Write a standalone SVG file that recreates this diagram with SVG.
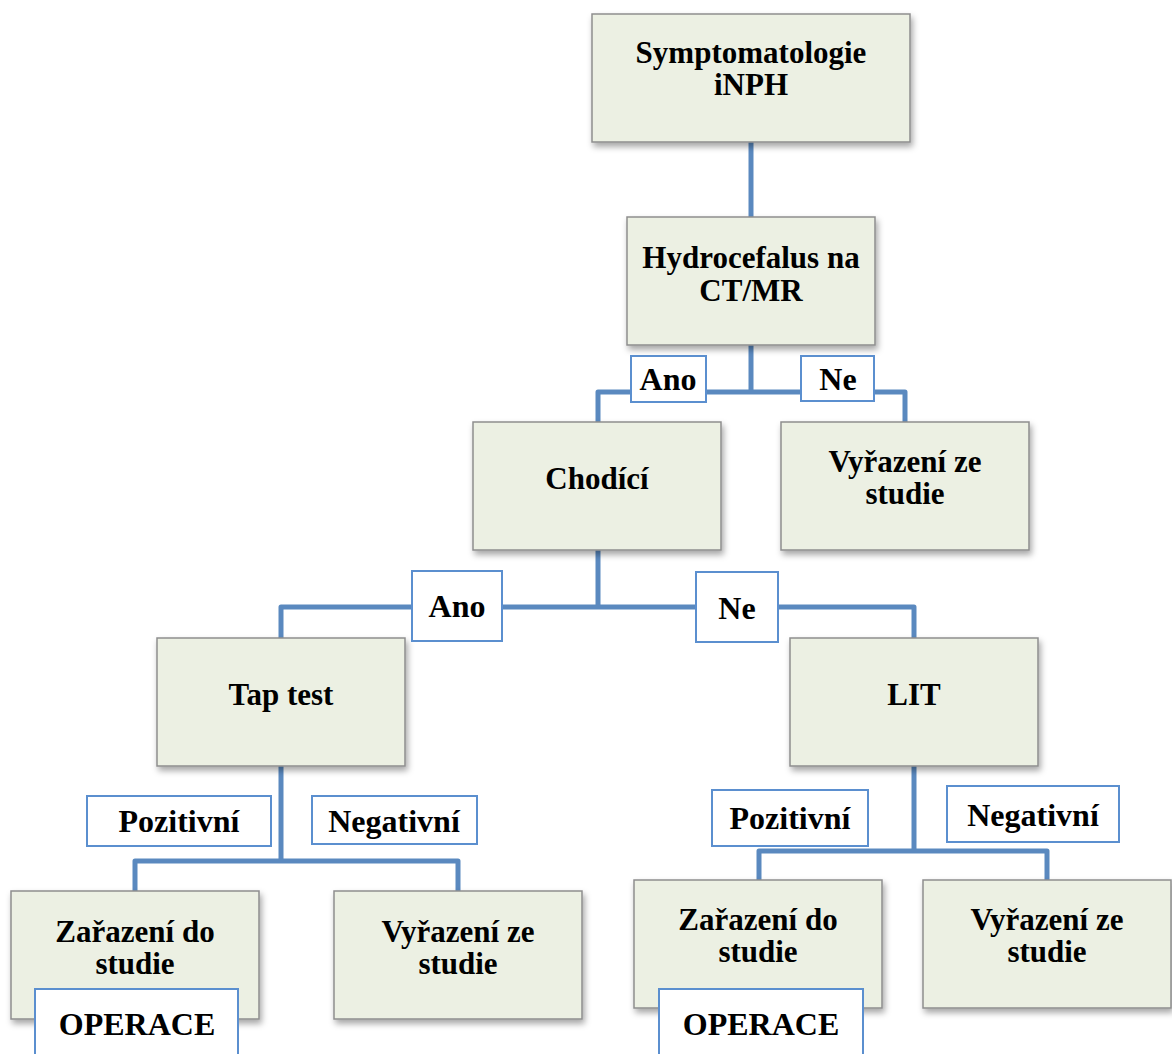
<svg xmlns="http://www.w3.org/2000/svg" width="1172" height="1054" viewBox="0 0 1172 1054">
<defs>
<filter id="sh" x="-10%" y="-10%" width="130%" height="130%">
<feDropShadow dx="2" dy="4" stdDeviation="3" flood-color="#000" flood-opacity="0.35"/>
</filter>
</defs>
<style>
.n{fill:#ECF0E3;stroke:#8E8E8E;stroke-width:1.5;filter:url(#sh)}
.l{fill:#FFFFFF;stroke:#5B8FCF;stroke-width:2}
.c{fill:none;stroke:#5A89BF;stroke-width:5;stroke-linejoin:round}
text{font-family:"Liberation Serif","Times New Roman",serif;font-weight:bold;fill:#000;text-anchor:middle}
.t{font-size:31px}
.lt{font-size:32px}
</style>
<rect width="1172" height="1054" fill="#fff"/>
<g id="connectors">
<path class="c" d="M751 142V217"/>
<path class="c" d="M751 345V392M598 422V392H905V422"/>
<path class="c" d="M598 550V607M281 638V607H914V638"/>
<path class="c" d="M281 766V861M135 891V861H458V891"/>
<path class="c" d="M914 766V851M759 880V851H1047V880"/>
</g>
<g id="n1"><rect class="n" x="592" y="14" width="318" height="128"/><text class="t" x="751" y="63">Symptomatologie</text><text class="t" x="751" y="95">iNPH</text></g>
<g id="n2"><rect class="n" x="627" y="217" width="248" height="128"/><text class="t" x="751" y="268">Hydrocefalus na</text><text class="t" x="751" y="301">CT/MR</text></g>
<g id="n3"><rect class="n" x="473" y="422" width="248" height="128"/><text class="t" x="597" y="489">Chodící</text></g>
<g id="n4"><rect class="n" x="781" y="422" width="248" height="128"/><text class="t" x="905" y="472">Vyřazení ze</text><text class="t" x="905" y="504">studie</text></g>
<g id="n5"><rect class="n" x="157" y="638" width="248" height="128"/><text class="t" x="281" y="705">Tap test</text></g>
<g id="n6"><rect class="n" x="790" y="638" width="248" height="128"/><text class="t" x="914" y="705">LIT</text></g>
<g id="n7"><rect class="n" x="11" y="891" width="248" height="128"/><text class="t" x="135" y="942">Zařazení do</text><text class="t" x="135" y="974">studie</text></g>
<g id="n8"><rect class="n" x="334" y="891" width="248" height="128"/><text class="t" x="458" y="942">Vyřazení ze</text><text class="t" x="458" y="974">studie</text></g>
<g id="n9"><rect class="n" x="634" y="880" width="248" height="128"/><text class="t" x="758" y="930">Zařazení do</text><text class="t" x="758" y="962">studie</text></g>
<g id="n10"><rect class="n" x="923" y="880" width="248" height="128"/><text class="t" x="1047" y="930">Vyřazení ze</text><text class="t" x="1047" y="962">studie</text></g>
<g id="l1"><rect class="l" x="631" y="356" width="75" height="46"/><text class="lt" x="668" y="390">Ano</text></g>
<g id="l2"><rect class="l" x="801" y="356" width="73" height="45"/><text class="lt" x="838" y="390">Ne</text></g>
<g id="l3"><rect class="l" x="412" y="571" width="90" height="70"/><text class="lt" x="457" y="617">Ano</text></g>
<g id="l4"><rect class="l" x="696" y="572" width="82" height="70"/><text class="lt" x="737" y="619">Ne</text></g>
<g id="l5"><rect class="l" x="87" y="796" width="184" height="50"/><text class="lt" x="179" y="832">Pozitivní</text></g>
<g id="l6"><rect class="l" x="312" y="796" width="165" height="48"/><text class="lt" x="394" y="832">Negativní</text></g>
<g id="l7"><rect class="l" x="712" y="790" width="156" height="56"/><text class="lt" x="790" y="829">Pozitivní</text></g>
<g id="l8"><rect class="l" x="947" y="786" width="172" height="56"/><text class="lt" x="1033" y="826">Negativní</text></g>
<g id="l9"><rect class="l" x="35" y="989" width="203" height="80"/><text class="lt" x="137" y="1035">OPERACE</text></g>
<g id="l10"><rect class="l" x="659" y="989" width="204" height="80"/><text class="lt" x="761" y="1035">OPERACE</text></g>
</svg>
